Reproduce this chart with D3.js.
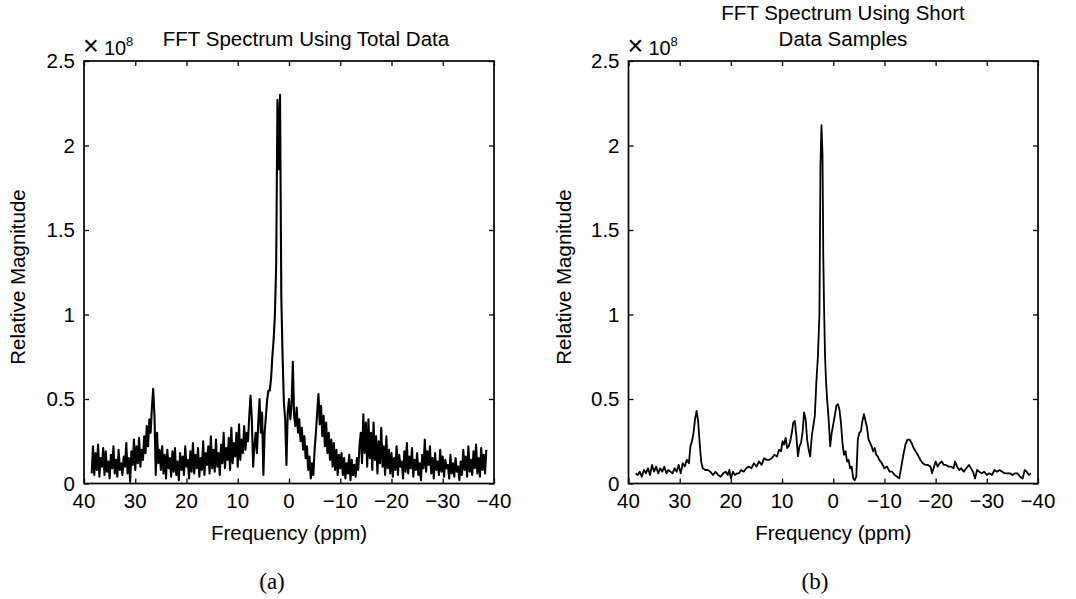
<!DOCTYPE html>
<html>
<head>
<meta charset="utf-8">
<script src="https://cdn.jsdelivr.net/npm/d3@7"></script>
<style>
  html, body { margin: 0; padding: 0; background: #fff; }
  svg { display: block; }
  text { font-family: "Liberation Sans", Arial, Helvetica, sans-serif; fill: #000; }
</style>
</head>
<body>
<svg id="chart" width="1076" height="599"></svg>
<script>
// ---------- data (values in units of 1e8) ----------
const xTicks = [40, 30, 20, 10, 0, -10, -20, -30, -40];
const xTickLabels = ["40", "30", "20", "10", "0", "\u221210", "\u221220", "\u221230", "\u221240"];
const yTicks = [0, 0.5, 1, 1.5, 2, 2.5];
const yTickLabels = ["0", "0.5", "1", "1.5", "2", "2.5"];

// Panel (a): sampled every 0.25 ppm from 38.5 ppm down to -38.5 ppm
const freqAStart = 38.5, freqAStep = -0.25;
const magA = [
  0.06,0.22,0.05,0.18,0.08,0.23,0.04,0.15,0.10,0.21,
  0.05,0.19,0.07,0.13,0.03,0.17,0.09,0.22,0.06,0.14,
  0.04,0.20,0.08,0.12,0.05,0.16,0.10,0.24,0.06,0.15,
  0.01,0.19,0.11,0.26,0.08,0.22,0.12,0.27,0.10,0.20,
  0.14,0.28,
  0.18,0.34,0.22,0.38,0.30,0.45,0.56,0.40,0.05,0.30,0.12,0.20,0.08,
  0.22,0.06,0.17,0.03,0.20,0.09,0.15,0.04,0.19,0.07,
  0.21,0.05,0.13,0.02,0.18,0.08,0.16,0.05,0.22,0.10,
  0.14,0.03,0.19,0.07,0.24,0.06,0.17,0.09,0.21,0.04,
  0.15,0.08,0.25,0.05,0.18,0.11,0.22,0.06,0.28,0.09,
  0.20,0.07,0.26,0.10,0.18,0.05,0.23,0.12,0.30,0.09,
  0.21,0.14,0.27,0.08,0.33,0.12,0.24,0.16,0.30,0.10,
  0.35,0.14,0.26,0.18,0.34,0.20,0.30,0.25,
  0.40,0.52,0.38,0.10,0.22,0.30,0.18,0.36,0.50,0.30,0.42,0.05,0.30,0.40,0.50,0.55,
  0.55,0.62,0.75,0.85,1.00,1.30,2.27,1.86,2.30,1.10,0.75,0.48,0.38,0.11,0.42,0.50,
  0.38,0.46,0.72,0.40,0.34,0.45,0.30,0.38,0.25,0.33,0.20,0.28,0.15,0.22,0.08,0.16,0.03,0.12,0.05,
  0.20,0.30,0.42,0.53,0.35,0.46,0.28,0.40,0.22,0.36,0.18,0.30,0.14,0.26,0.10,0.24,0.08,0.20,0.05,0.17,0.09,
  0.18,0.05,0.15,0.03,0.12,0.06,0.17,0.02,0.14,0.05,0.11,0.04,0.15,0.08,0.22,
  0.30,0.12,0.41,0.18,0.36,0.10,0.38,0.15,0.30,0.08,0.36,0.14,0.28,0.06,0.25,0.12,0.33,0.10,0.22,0.05,0.28,0.09,0.20,0.06,
  0.18,0.04,0.15,0.08,0.22,0.05,0.17,0.10,0.13,0.03,
  0.19,0.07,0.24,0.06,0.16,0.09,0.21,0.04,0.14,0.08,
  0.18,0.05,0.12,0.02,0.17,0.09,0.26,0.07,0.19,0.11,
  0.22,0.06,0.15,0.03,0.18,0.08,0.13,0.05,0.20,0.07,
  0.16,0.04,0.14,0.09,0.11,0.03,0.17,0.06,0.12,0.04,
  0.15,0.07,0.10,0.02,0.13,0.05,0.20,0.08,0.16,0.04,
  0.22,0.07,0.14,0.05,0.19,0.09,0.23,0.06,0.15,0.04,
  0.21,0.08,0.17,0.06,0.20
];

// Panel (b)
const freqB = [
  38.6,38.2,37.8,37.4,37.0,36.6,36.2,35.8,35.4,35.0,34.6,34.2,33.8,33.4,33.0,32.6,32.2,31.8,31.4,31.0,
  30.6,30.2,29.8,29.4,29.0,28.6,28.2,27.9,27.6,27.3,27.0,26.7,26.4,26.1,25.8,25.5,25.0,24.5,24.0,23.5,
  23.0,22.5,22.0,21.5,21.0,20.6,20.3,20.0,19.6,19.2,18.8,18.4,18.0,17.5,17.0,16.5,16.0,15.5,15.0,14.5,
  14.0,13.5,13.0,12.5,12.0,11.5,11.0,10.6,10.2,9.9,9.6,9.3,9.0,8.7,8.4,8.1,7.8,7.5,7.2,6.9,
  6.6,6.3,6.0,5.7,5.4,5.1,4.8,4.5,4.2,3.9,3.6,3.3,3.0,2.7,2.5,2.3,2.1,1.95,1.8,1.6,
  1.4,1.2,0.9,0.6,0.3,0.0,-0.3,-0.6,-0.9,-1.2,-1.5,-1.8,-2.1,-2.4,-2.7,-3.0,-3.3,-3.6,-3.9,-4.2,
  -4.5,-4.8,-5.1,-5.4,-5.7,-6.0,-6.3,-6.6,-6.9,-7.2,-7.5,-7.8,-8.1,-8.4,-8.7,-9.0,-9.5,-10.0,-10.5,-11.0,
  -11.5,-12.0,-12.5,-12.9,-13.3,-13.7,-14.1,-14.5,-14.9,-15.3,-15.7,-16.1,-16.5,-17.0,-17.5,-18.0,-18.5,-19.0,-19.3,-19.6,
  -20.0,-20.4,-20.8,-21.2,-21.6,-22.0,-22.5,-23.0,-23.5,-23.8,-24.2,-24.6,-25.0,-25.5,-26.0,-26.5,-26.9,-27.3,-27.7,-28.1,
  -28.5,-29.0,-29.5,-30.0,-30.5,-31.0,-31.5,-32.0,-32.5,-33.0,-33.5,-34.0,-34.5,-35.0,-35.5,-36.0,-36.5,-37.0,-37.4,-37.8,
  -38.2,-38.6
];
const magB = [
  0.06,0.05,0.07,0.04,0.08,0.06,0.09,0.05,0.11,0.07,0.10,0.06,0.09,0.07,0.10,0.06,0.08,0.07,0.06,0.09,
  0.07,0.11,0.06,0.12,0.10,0.14,0.12,0.22,0.25,0.30,0.38,0.43,0.37,0.24,0.13,0.09,0.08,0.08,0.07,0.05,
  0.07,0.05,0.04,0.06,0.07,0.05,0.08,0.03,0.07,0.05,0.06,0.06,0.08,0.07,0.09,0.10,0.09,0.12,0.10,0.13,
  0.11,0.15,0.14,0.14,0.15,0.17,0.16,0.20,0.19,0.25,0.23,0.27,0.21,0.22,0.25,0.30,0.36,0.37,0.28,0.16,
  0.22,0.24,0.30,0.42,0.38,0.26,0.20,0.16,0.28,0.34,0.40,0.60,0.75,1.00,1.88,2.12,1.95,1.35,1.05,0.75,
  0.60,0.50,0.38,0.22,0.30,0.35,0.40,0.46,0.47,0.44,0.36,0.24,0.17,0.19,0.13,0.14,0.09,0.10,0.03,0.02,
  0.04,0.26,0.30,0.31,0.37,0.41,0.37,0.33,0.26,0.24,0.22,0.19,0.21,0.17,0.16,0.14,0.12,0.09,0.10,0.07,
  0.07,0.05,0.04,0.03,0.10,0.17,0.23,0.26,0.26,0.24,0.21,0.19,0.17,0.14,0.12,0.11,0.11,0.10,0.06,0.09,
  0.13,0.10,0.12,0.13,0.11,0.11,0.10,0.10,0.09,0.13,0.10,0.08,0.09,0.07,0.09,0.11,0.09,0.07,0.03,0.08,
  0.07,0.06,0.07,0.05,0.06,0.05,0.08,0.07,0.08,0.07,0.06,0.06,0.06,0.05,0.06,0.06,0.04,0.03,0.08,0.07,
  0.05,0.06
];

const titleA = ["FFT Spectrum Using Total Data"];
const titleB = ["FFT Spectrum Using Short", "Data Samples"];
const xLabel = "Frequency (ppm)";
const yLabel = "Relative Magnitude";

// ---------- drawing ----------
const svg = d3.select("#chart");
const freqA = magA.map((_, i) => freqAStart + i * freqAStep);
const seriesA = magA.map((v, i) => ({ f: freqA[i], v }));
const seriesB = magB.map((v, i) => ({ f: freqB[i], v }));

const plotTop = 61, plotBottom = 483.5;

function panel(left, right, series, title, titleX, titleY0, sub, subX, ylabX, strokeW) {
  const x = d3.scaleLinear().domain([40, -40]).range([left, right]);
  const y = d3.scaleLinear().domain([0, 2.5]).range([plotBottom, plotTop]);
  const g = svg.append("g");

  // data line
  const line = d3.line().x(d => x(d.f)).y(d => y(d.v));
  g.append("path").datum(series)
    .attr("d", line).attr("fill", "none").attr("stroke", "#000")
    .attr("stroke-width", strokeW).attr("stroke-linejoin", "round");

  // inward ticks on all four sides
  const tl = 5;
  g.append("g").attr("transform", `translate(0,${plotBottom})`)
    .call(d3.axisTop(x).tickValues(xTicks).tickSize(tl).tickFormat(""))
    .call(s => s.select(".domain").remove());
  g.append("g").attr("transform", `translate(0,${plotTop})`)
    .call(d3.axisBottom(x).tickValues(xTicks).tickSize(tl).tickFormat(""))
    .call(s => s.select(".domain").remove());
  g.append("g").attr("transform", `translate(${left},0)`)
    .call(d3.axisRight(y).tickValues(yTicks).tickSize(tl).tickFormat(""))
    .call(s => s.select(".domain").remove());
  g.append("g").attr("transform", `translate(${right},0)`)
    .call(d3.axisLeft(y).tickValues(yTicks).tickSize(tl).tickFormat(""))
    .call(s => s.select(".domain").remove());
  g.selectAll(".tick line").attr("stroke", "#000").attr("stroke-width", 1.3);

  // box
  g.append("rect").attr("x", left).attr("y", plotTop)
    .attr("width", right - left).attr("height", plotBottom - plotTop)
    .attr("fill", "none").attr("stroke", "#000").attr("stroke-width", 1.7);

  // tick labels
  g.selectAll(".xl").data(xTicks).enter().append("text")
    .attr("x", d => x(d)).attr("y", 508).attr("text-anchor", "middle")
    .attr("font-size", 20.5).text((d, i) => xTickLabels[i]);
  g.selectAll(".yl").data(yTicks).enter().append("text")
    .attr("x", left - 9).attr("y", d => y(d) + 7).attr("text-anchor", "end")
    .attr("font-size", 20.5).text((d, i) => yTickLabels[i]);

  // exponent
  g.append("text").attr("x", left - 1).attr("y", 55).attr("font-size", 27).text("\u00d7");
  g.append("text").attr("x", left + 20).attr("y", 55).attr("font-size", 20).text("10");
  g.append("text").attr("x", left + 42).attr("y", 46).attr("font-size", 13).text("8");

  // title
  title.forEach((t, i) => {
    g.append("text").attr("x", titleX).attr("y", titleY0 + i * 26)
      .attr("text-anchor", "middle").attr("font-size", 20.5).text(t);
  });

  // axis labels
  g.append("text").attr("x", (left + right) / 2).attr("y", 540)
    .attr("text-anchor", "middle").attr("font-size", 20.5).text(xLabel);
  g.append("text").attr("transform", `translate(${ylabX},277) rotate(-90)`)
    .attr("text-anchor", "middle").attr("font-size", 20.5).text(yLabel);

  // sub caption
  g.append("text").attr("x", subX).attr("y", 589).attr("text-anchor", "middle")
    .style("font-family", "'Liberation Serif', 'DejaVu Serif', serif")
    .attr("font-size", 23).text(sub);
}

panel(84, 494, seriesA, titleA, 306, 46, "(a)", 272, 25, 2.1);
panel(628.5, 1038, seriesB, titleB, 843, 20, "(b)", 815, 571, 1.8);
</script>
</body>
</html>
